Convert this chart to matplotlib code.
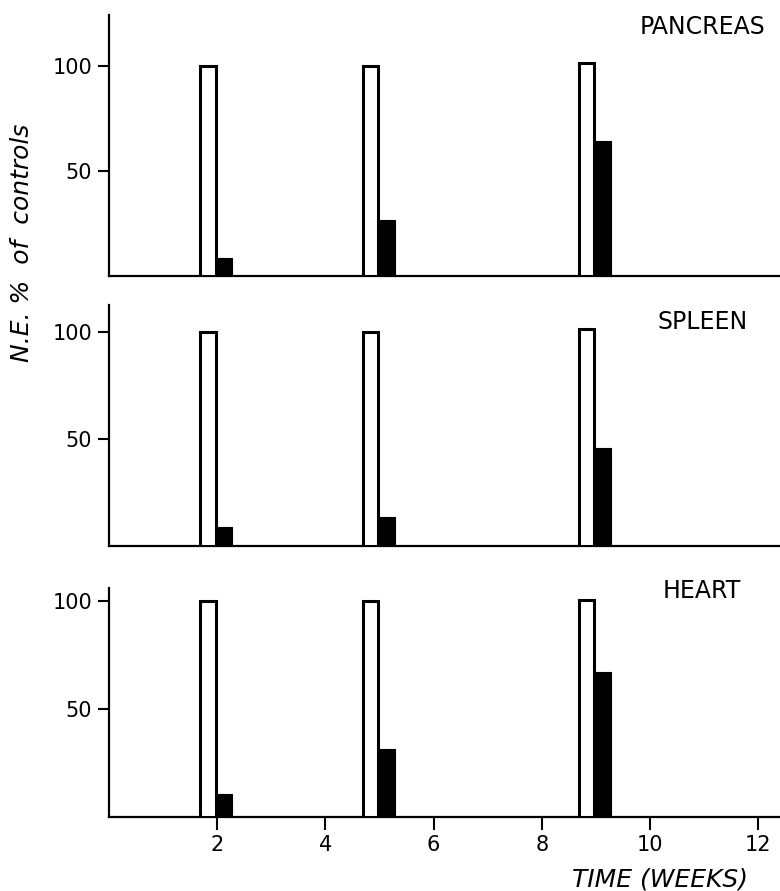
import matplotlib.pyplot as plt
import numpy as np

# Data (N.E. as % of controls)
weeks = np.array([2, 5, 9])
organs = ['PANCREAS', 'SPLEEN', 'HEART']
control_pancreas = [100, 100, 101.5]
treated_pancreas = [8.6, 26.7, 64]
control_spleen = [100, 100, 101.5]
treated_spleen = [8.9, 13.5, 46]
control_heart = [100, 100, 100.5]
treated_heart = [10.6, 31.5, 67]
y_ticks = [50, 100]
x_ticks = [2, 4, 6, 8, 10, 12]

controls = [control_pancreas, control_spleen, control_heart]
treated = [treated_pancreas, treated_spleen, treated_heart]


def draw():
    fig = plt.figure(figsize=(7.8, 8.91), dpi=100, facecolor='white')
    plt.rcParams['font.family'] = ['DejaVu Sans']

    # axes boxes [left, bottom, width, height] and y limits per panel
    left = 109 / 780
    width = 1 - left
    boxes = [(0.690, 0.293), (0.387, 0.2705), (0.0831, 0.257)]
    ytops = [124, 112.6, 106]

    for i, (bottom, height) in enumerate(boxes):
        ax = fig.add_axes([left, bottom, width, height])

        # white control bar on the left, black treated bar on the right
        ax.bar(weeks - 0.31, controls[i], width=0.28, align='edge',
               facecolor='white', edgecolor='black', linewidth=2.2, zorder=3)
        ax.bar(weeks - 0.02, treated[i], width=0.30, align='edge',
               facecolor='black', edgecolor='black', linewidth=0.8, zorder=3)

        ax.set_xlim(0, 12.4)
        ax.set_ylim(0, ytops[i])
        ax.set_yticks(y_ticks)
        ax.set_yticklabels([str(t) for t in y_ticks])

        for s in ['top', 'right']:
            ax.spines[s].set_visible(False)
        for s in ['left', 'bottom']:
            ax.spines[s].set_linewidth(1.6)

        ax.tick_params(axis='y', direction='out', length=8, width=1.5,
                       labelsize=15, pad=4)

        if i < 2:
            ax.set_xticks([])
        else:
            ax.set_xticks(x_ticks)
            ax.tick_params(axis='x', direction='out', length=9, width=1.5,
                           labelsize=15, pad=4)

        ax.text(0.884, [0.954, 0.929, 0.987][i], organs[i], transform=ax.transAxes,
                ha='center', va='center', fontsize=17)

    fig.text(22 / 780, 1 - 243 / 891, 'N.E. %  of  controls', rotation=90,
             ha='center', va='center', fontsize=18, style='italic')
    fig.text(660 / 780, 1 - 880 / 891, 'TIME (WEEKS)', ha='center', va='center',
             fontsize=18, style='italic')

    return fig


if __name__ == '__main__':
    fig = draw()
    fig.savefig('out.png', dpi=100, facecolor='white')
